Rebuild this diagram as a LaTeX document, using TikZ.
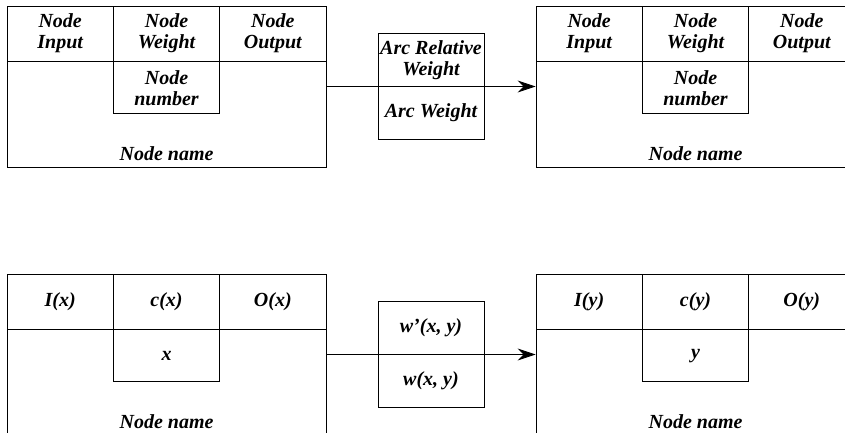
\documentclass[tikz,border=0pt]{standalone}
\usepackage{fontspec}
\setmainfont{Liberation Serif}
\usepackage{tikz}
\usetikzlibrary{arrows.meta}
\usetikzlibrary{positioning}

\tikzset{
  lbl/.style   = {font=\fontsize{20}{21}\selectfont\bfseries\itshape, align=center, inner sep=0pt},
  frame/.style = {draw, minimum width=319pt, minimum height=161pt, inner sep=0pt},
  cell/.style  = {draw, lbl, minimum width=106.33pt, minimum height=55pt},
  inner/.style = {draw, lbl, minimum width=106.33pt, minimum height=52pt},
  arcbox/.style= {draw, minimum width=106pt, minimum height=106pt, inner sep=0pt},
  link/.style  = {-{Stealth[length=18pt, width=12pt, inset=6pt]}}
}

\begin{document}
\begin{tikzpicture}[x=1pt, y=-1pt, line width=0.8pt]
            \clip (0,0) rectangle (845,432);
            \node[frame]                     (srcA)  at (166.5, 86.5) {};
            \node[cell]                      (inA)   at ( 60.2, 33.5) {Node\\Input};
            \node[cell]                      (cwA)   at (166.5, 33.5) {Node\\Weight};
            \node[cell]                      (outA)  at (272.8, 33.5) {Node\\Output};
            \node[inner, below=0pt of cwA]   (numA)                   {Node\\number};
            \node[lbl]                       (nameA) at (166.5,154.0) {Node name};
            \node[frame]                     (dstA)  at (695.5, 86.5) {};
            \node[cell]                      (inA2)  at (589.2, 33.5) {Node\\Input};
            \node[cell]                      (cwA2)  at (695.5, 33.5) {Node\\Weight};
            \node[cell]                      (outA2) at (801.8, 33.5) {Node\\Output};
            \node[inner, below=0pt of cwA2]  (numA2)                  {Node\\number};
            \node[lbl]                       (nameA2) at (695.5,154.0) {Node name};
            \node[arcbox]                    (relA)  at (431.0, 86.5) {};
            \node[lbl]                       (rwA)   at (431.0, 60.0) {Arc Relative\\Weight};
            \node[lbl]                       (awA)   at (431.0,113.0) {Arc Weight};
            \draw[link] (srcA.east) -- (dstA.west);

            \node[frame]                     (srcB)  at (166.5,354.5) {};
            \node[cell]                      (inB)   at ( 60.2,301.5) {I(x)};
            \node[cell]                      (cwB)   at (166.5,301.5) {c(x)};
            \node[cell]                      (outB)  at (272.8,301.5) {O(x)};
            \node[inner, below=0pt of cwB]   (numB)                   {x};
            \node[lbl]                       (nameB) at (166.5,422.0) {Node name};
            \node[frame]                     (dstB)  at (695.5,354.5) {};
            \node[cell]                      (inB2)  at (589.2,301.5) {I(y)};
            \node[cell]                      (cwB2)  at (695.5,301.5) {c(y)};
            \node[cell]                      (outB2) at (801.8,301.5) {O(y)};
            \node[inner, below=0pt of cwB2]  (numB2)                  {y};
            \node[lbl]                       (nameB2) at (695.5,422.0) {Node name};
            \node[arcbox]                    (relB)  at (431.0,354.5) {};
            \node[lbl]                       (rwB)   at (431.0,328.0) {w'(x, y)};
            \node[lbl]                       (awB)   at (431.0,381.0) {w(x, y)};
            \draw[link] (srcB.east) -- (dstB.west);
        \end{tikzpicture}
\end{document}
